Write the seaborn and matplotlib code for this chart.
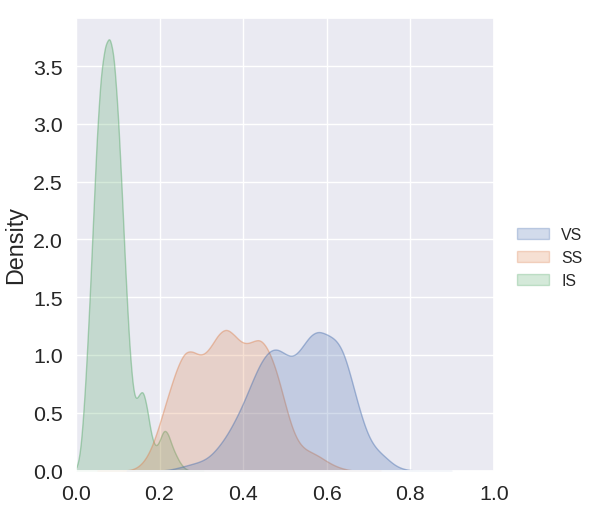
import matplotlib.pyplot as plt
import pandas as pd
import seaborn as sns

# Density, one x grid per group
is_x = [0.00, 0.01, 0.02, 0.03, 0.04, 0.05, 0.06, 0.07, 0.08, 0.09,
        0.10, 0.11, 0.12, 0.13, 0.14, 0.15, 0.16, 0.17, 0.18, 0.19,
        0.20, 0.21, 0.22, 0.23, 0.24, 0.25, 0.26, 0.27]
is_density = [0.0, 0.12, 0.59, 1.26, 2.08, 2.93, 3.48, 3.70, 3.78, 3.64,
              3.14, 2.40, 1.58, 0.93, 0.58, 0.65, 0.72, 0.55, 0.30, 0.19,
              0.25, 0.37, 0.33, 0.21, 0.13, 0.06, 0.02, 0.0]

ss_x = [0.12, 0.14, 0.16, 0.18, 0.20, 0.22, 0.24, 0.26, 0.28, 0.30,
        0.32, 0.34, 0.36, 0.38, 0.40, 0.42, 0.44, 0.46, 0.48, 0.50,
        0.52, 0.54, 0.56, 0.58, 0.60, 0.62, 0.64, 0.66]
ss_density = [0.0, 0.01, 0.06, 0.18, 0.40, 0.65, 0.88, 1.05, 1.04, 0.98,
              1.05, 1.19, 1.25, 1.17, 1.09, 1.11, 1.16, 1.06, 0.87, 0.58,
              0.32, 0.20, 0.165, 0.13, 0.08, 0.04, 0.015, 0.0]

vs_x = [0.20, 0.22, 0.24, 0.26, 0.28, 0.30, 0.32, 0.34, 0.36, 0.38,
        0.40, 0.42, 0.44, 0.46, 0.48, 0.50, 0.52, 0.54, 0.56, 0.58,
        0.60, 0.62, 0.64, 0.66, 0.68, 0.70, 0.72, 0.74, 0.76, 0.78,
        0.80, 0.82]
vs_density = [0.0, 0.005, 0.02, 0.04, 0.06, 0.08, 0.12, 0.20, 0.30, 0.43,
              0.58, 0.76, 0.93, 1.04, 1.07, 1.01, 0.97, 1.06, 1.18, 1.22,
              1.18, 1.15, 1.05, 0.78, 0.50, 0.28, 0.18, 0.12, 0.05, 0.015,
              0.003, 0.0]

groups = ["VS", "SS", "IS"]

# weights = density * grid step, so common_norm keeps the relative areas
frames = []
for name, xs, ds in [("VS", vs_x, vs_density), ("SS", ss_x, ss_density), ("IS", is_x, is_density)]:
    step = xs[1] - xs[0]
    frames.append(pd.DataFrame({"value": xs, "weight": [d * step for d in ds], "group": name}))
df = pd.concat(frames, ignore_index=True)

sns.set_theme(style="darkgrid", font_scale=1.4)
plt.rcParams["font.family"] = ["Liberation Sans", "DejaVu Sans"]

fig, ax = plt.subplots(figsize=(5.98, 5.06), dpi=100)
fig.subplots_adjust(left=0.127, right=0.826, bottom=0.068, top=0.963)

sns.kdeplot(data=df, x="value", weights="weight", hue="group", hue_order=groups,
            fill=True, bw_method=0.14, gridsize=500, linewidth=1, ax=ax)
ax.set_xlim(0, 1)
ax.set_xlabel("")

sns.move_legend(ax, "center left", bbox_to_anchor=(0.854, 0.489),
                bbox_transform=fig.transFigure, title=None, frameon=False,
                fontsize=11.4, borderaxespad=0)

# softer outlines, like the reference
for coll in ax.collections:
    r, g, b, _ = coll.get_facecolor()[0]
    coll.set_edgecolor((r, g, b, 0.45))
for h in ax.get_legend().legend_handles:
    r, g, b, _ = h.get_facecolor()
    h.set_edgecolor((r, g, b, 0.3))

fig.savefig("out.png", dpi=100)
